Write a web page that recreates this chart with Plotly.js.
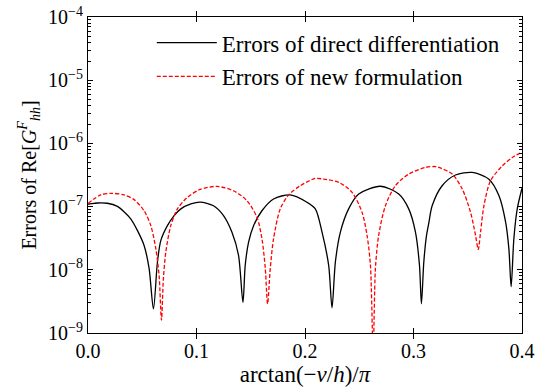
<!DOCTYPE html>
<html>
<head>
<meta charset="utf-8">
<script src="https://cdn.plot.ly/plotly-3.0.1.min.js"></script>
<style>html,body{margin:0;padding:0;background:#fff;}#chart{width:535px;height:387px;}</style>
</head>
<body>
<div id="chart"></div>
<script>
// Errors of direct differentiation (black, solid)
const directX = [0.0000, 0.0009, 0.0086, 0.0178, 0.0271, 0.0332, 0.0394, 0.0455, 0.0517, 0.0563, 0.0603,
  0.0640, 0.0671, 0.0732, 0.0794, 0.0856, 0.0948, 0.1034, 0.1157, 0.1249, 0.1326, 0.1387, 0.1428,
  0.1449, 0.1480, 0.1526, 0.1603, 0.1710, 0.1864, 0.2018, 0.2095, 0.2157, 0.2218, 0.2249,
  0.2280, 0.2326, 0.2402, 0.2495, 0.2695, 0.2864, 0.2956, 0.3018, 0.3055, 0.3073,
  0.3095, 0.3120, 0.3141, 0.3172, 0.3264, 0.3387, 0.3541, 0.3695, 0.3787, 0.3849, 0.3879, 0.3900,
  0.3925, 0.3956, 0.4000];
const directY = [1.10e-7, 1.10e-7, 1.14e-7, 1.13e-7, 1.01e-7, 8.3e-8, 6.4e-8, 4.2e-8, 2.43e-8, 1.05e-8, 2.4e-9,
  1.33e-8, 2.9e-8, 5.0e-8, 7.2e-8, 9.2e-8, 1.10e-7, 1.18e-7, 1.03e-7, 7.2e-8, 3.95e-8, 1.7e-8, 3.05e-9,
  1.18e-8, 2.75e-8, 5.0e-8, 8.6e-8, 1.32e-7, 1.53e-7, 1.17e-7, 9.2e-8, 3.95e-8, 1.18e-8, 2.5e-9,
  1.33e-8, 3.95e-8, 9.2e-8, 1.58e-7, 2.1e-7, 1.58e-7, 9.2e-8, 3.95e-8, 1.18e-8, 2.9e-9,
  1.33e-8, 3.5e-8, 5.5e-8, 1.03e-7, 2.14e-7, 3.16e-7, 3.47e-7, 2.72e-7, 1.5e-7, 5.7e-8, 2.16e-8, 5.4e-9,
  3.1e-8, 9.2e-8, 1.95e-7];

// Errors of new formulation (red, dashed)
const newX = [0.0000, 0.0117, 0.0224, 0.0332, 0.0425, 0.0517, 0.0579, 0.0625, 0.0655, 0.0677,
  0.0695, 0.0717, 0.0763, 0.0824, 0.0916, 0.1034, 0.1188, 0.1341, 0.1465, 0.1557, 0.1603, 0.1634, 0.1655,
  0.1680, 0.1710, 0.1772, 0.1849, 0.1957, 0.2095, 0.2172, 0.2310, 0.2434, 0.2526, 0.2572, 0.2603, 0.2628,
  0.2649, 0.2679, 0.2741, 0.2833, 0.2956, 0.3110, 0.3203, 0.3233, 0.3357, 0.3449, 0.3526, 0.3572, 0.3597,
  0.3618, 0.3649, 0.3710, 0.3818, 0.3910, 0.4000];
const newY = [1.12e-7, 1.53e-7, 1.62e-7, 1.53e-7, 1.29e-7, 8.6e-8, 5.0e-8, 2.16e-8, 8.2e-9, 1.6e-9,
  7.3e-9, 1.9e-8, 5.0e-8, 9.2e-8, 1.4e-7, 1.87e-7, 2.09e-7, 1.78e-7, 1.24e-7, 6.8e-8, 3.1e-8, 1.05e-8, 2.9e-9,
  1.05e-8, 3.1e-8, 9.2e-8, 1.53e-7, 2.14e-7, 2.79e-7, 2.72e-7, 2.42e-7, 1.68e-7, 8.1e-8, 3.5e-8, 1.18e-8, 5e-10,
  1.05e-8, 3.5e-8, 1.03e-7, 2.14e-7, 3.27e-7, 4.17e-7, 4.3e-7, 4.17e-7, 3.27e-7, 1.9e-7, 8.1e-8, 3.5e-8, 2.09e-8,
  3.95e-8, 1.03e-7, 2.57e-7, 4.4e-7, 5.98e-7, 7.3e-7];

const xTickVals = [0.0, 0.1, 0.2, 0.3, 0.4];
const xTickText = ['0.0', '0.1', '0.2', '0.3', '0.4'];
const yTickVals = [1e-9, 1e-8, 1e-7, 1e-6, 1e-5, 1e-4];
const yTickText = ['10<sup>−9</sup>', '10<sup>−8</sup>', '10<sup>−7</sup>', '10<sup>−6</sup>', '10<sup>−5</sup>', '10<sup>−4</sup>'];
const yDecades = [-9, -8, -7, -6, -5];
const yMinorDigits = [2, 3, 4, 5, 6, 7, 8, 9];
const yMinorVals = [];
yDecades.forEach(d => yMinorDigits.forEach(m => yMinorVals.push(m * Math.pow(10, d))));

const FONT = 'Liberation Serif, DejaVu Serif, serif';

const traces = [
  {x: directX, y: directY, type: 'scatter', mode: 'lines', name: 'Errors of direct differentiation',
   legendgroup: 'a', line: {color: '#000000', width: 1.3, shape: 'spline', smoothing: 0.8}},
  {x: newX, y: newY, type: 'scatter', mode: 'lines', name: 'Errors of new formulation', yaxis: 'y2',
   legendgroup: 'b', line: {color: '#ff0000', width: 1.3, dash: '4px,2px', shape: 'spline', smoothing: 0.8}}
];

const layout = {
  width: 535, height: 387,
  margin: {l: 88, r: 13, t: 17, b: 54},
  paper_bgcolor: '#ffffff', plot_bgcolor: '#ffffff',
  font: {family: FONT, size: 20, color: '#000'},
  showlegend: true,
  legend: {x: 0.147, y: 0.987, xanchor: 'left', yanchor: 'top', bgcolor: 'rgba(0,0,0,0)',
           font: {family: FONT, size: 23, color: '#000'}, itemwidth: 60, tracegroupgap: 1},
  xaxis: {
    range: [0, 0.4], tickvals: xTickVals, ticktext: xTickText,
    ticks: 'inside', ticklen: 5, tickcolor: '#000', tickwidth: 1,
    showline: true, linecolor: '#000', linewidth: 1, mirror: 'allticks',
    showgrid: false, zeroline: false,
    tickfont: {family: FONT, size: 20},
    title: {text: 'arctan(−<i>v</i>/<i>h</i>)/<i>π</i>', font: {family: FONT, size: 23}, standoff: 2}
  },
  yaxis: {
    type: 'log', range: [-9, -4], tickvals: yTickVals, ticktext: yTickText,
    ticks: 'inside', ticklen: 5, tickcolor: '#000', tickwidth: 1,
    showline: true, linecolor: '#000', linewidth: 1, mirror: 'allticks',
    showgrid: false, zeroline: false,
    tickfont: {family: FONT, size: 20},
    title: {text: 'Errors of Re[<i>G</i><sup><i>F</i></sup><sub><i>hh</i></sub>]', font: {family: FONT, size: 20}, standoff: 6}
  },
  yaxis2: {
    type: 'log', range: [-9, -4], overlaying: 'y', side: 'left', anchor: 'x',
    tickvals: yMinorVals, showticklabels: false,
    ticks: 'inside', ticklen: 3, tickcolor: '#000', tickwidth: 1,
    showline: false, mirror: 'allticks', showgrid: false, zeroline: false
  }
};

Plotly.newPlot('chart', traces, layout, {displayModeBar: false, staticPlot: true});
</script>
</body>
</html>
